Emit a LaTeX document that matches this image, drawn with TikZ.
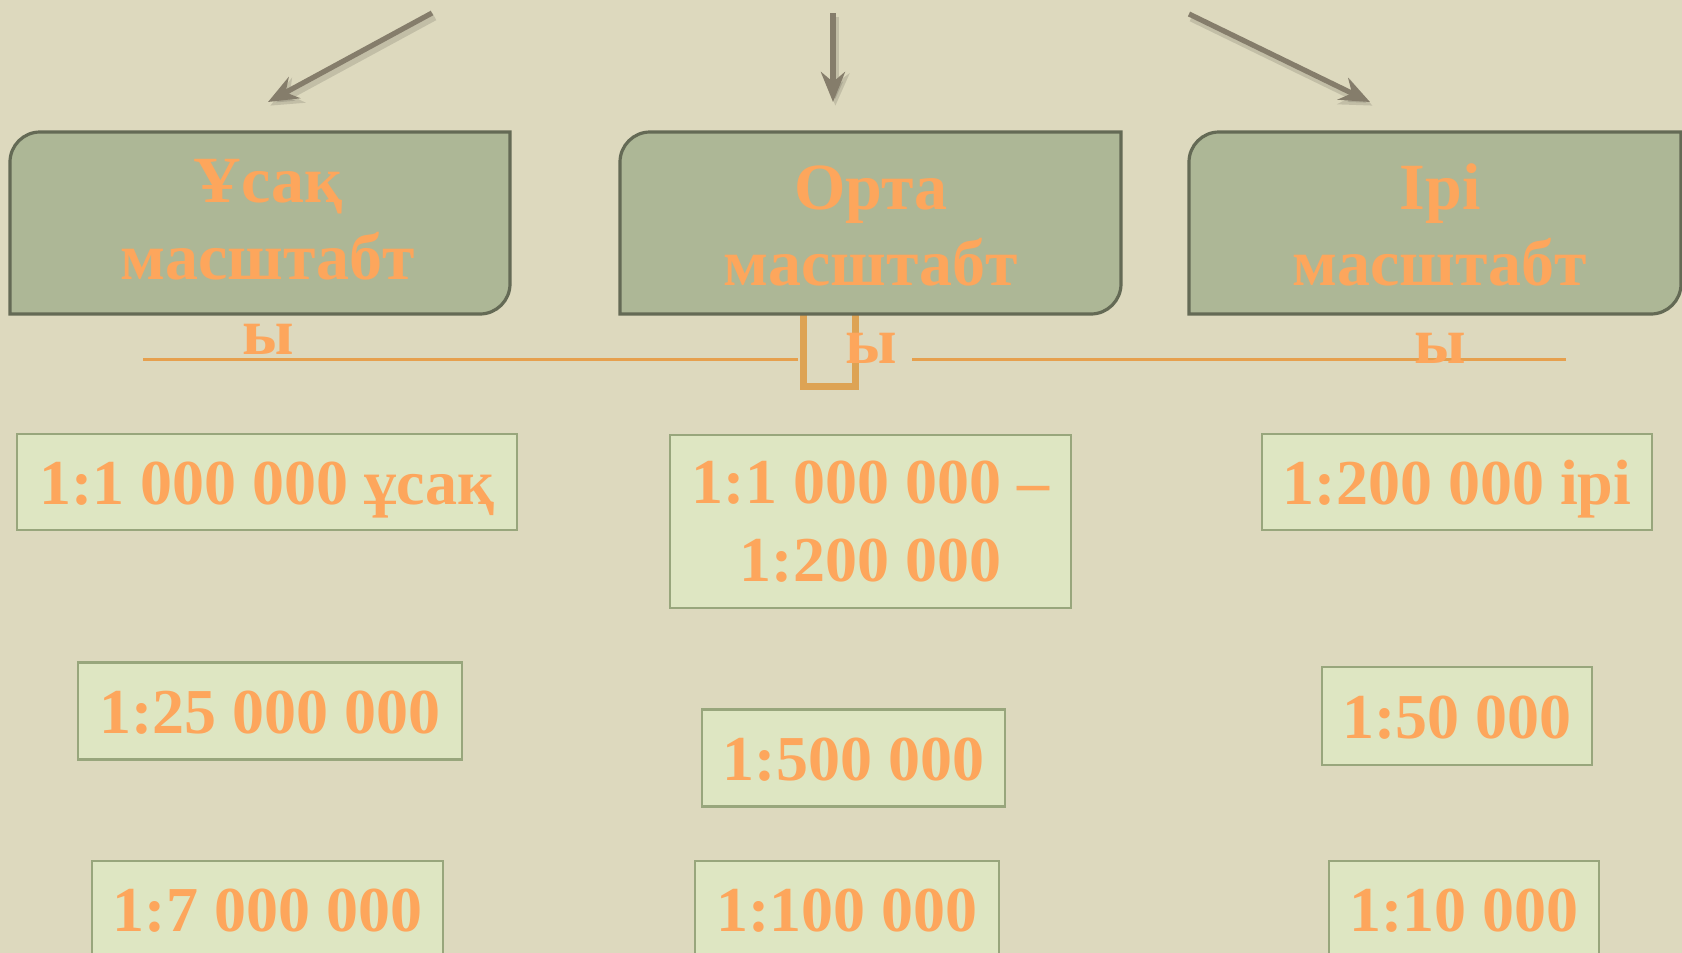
\documentclass[tikz,border=0pt]{standalone}
\usepackage{fontspec}
\setmainfont{Liberation Serif}
\usetikzlibrary{arrows.meta}
\definecolor{bgc}{HTML}{DDD9BE}
\definecolor{hdrfill}{HTML}{ADB796}
\definecolor{hdrline}{HTML}{646A55}
\definecolor{sbfill}{HTML}{DEE6C2}
\definecolor{sbline}{HTML}{98A67C}
\definecolor{txtor}{HTML}{FDA65C}
\definecolor{lineor}{HTML}{E6A04E}
\definecolor{brkor}{HTML}{DDA354}
\definecolor{arrc}{HTML}{857D6B}
\begin{document}
\begin{tikzpicture}[x=0.5pt,y=-0.5pt,
  hdrtext/.style={anchor=base, text=txtor, inner sep=0pt, font=\fontsize{33}{39}\selectfont\bfseries},
  hdrbox/.style={draw=hdrline, fill=hdrfill, line width=1.6pt},
  scalebase/.style={draw=sbline, fill=sbfill, line width=1.4pt, text=txtor, inner sep=0pt,
    align=center, font=\fontsize{32}{39}\selectfont\bfseries},
  scalebox/.style={scalebase, text height=22pt, text depth=0pt},
  feed/.style={draw=arrc, line width=2.6pt, -{Stealth[length=15pt,width=12pt,inset=5pt]}},
  feedshadow/.style={draw=black, opacity=0.12, line width=4pt, -{Stealth[length=16pt,width=14pt,inset=5pt]},
    transform canvas={shift={(1.2pt,-1.8pt)}}},
  orline/.style={draw=lineor, line width=1.5pt},
  brk/.style={draw=brkor, line width=3.5pt}
]
\useasboundingbox (0,0) rectangle (1682,953);
\clip (0,0) rectangle (1682,953);
\fill[bgc] (0,0) rectangle (1682,953);

% feed arrows
\coordinate (a1s) at (432,13);  \coordinate (a1e) at (268,102);
\coordinate (a2s) at (833,13);  \coordinate (a2e) at (833,102);
\coordinate (a3s) at (1189,14); \coordinate (a3e) at (1370,102);
\draw[feedshadow] (a1s) -- (a1e);
\draw[feedshadow] (a2s) -- (a2e);
\draw[feedshadow] (a3s) -- (a3e);
\draw[feed] (a1s) -- (a1e);
\draw[feed] (a2s) -- (a2e);
\draw[feed] (a3s) -- (a3e);

% bracket under middle header
\draw[brk] (803,300) -- (803,386) -- (855,386) -- (855,300);

% header boxes
\draw[hdrbox] (10,314) -- (10,162) .. controls (10,145.5) and (23.5,132) .. (40,132)
  -- (510,132) -- (510,284) .. controls (510,300.5) and (496.5,314) .. (480,314) -- cycle;
\draw[hdrbox] (620,314) -- (620,162) .. controls (620,145.5) and (633.5,132) .. (650,132)
  -- (1121,132) -- (1121,284) .. controls (1121,300.5) and (1107.5,314) .. (1091,314) -- cycle;
\draw[hdrbox] (1189,314) -- (1189,162) .. controls (1189,145.5) and (1202.5,132) .. (1219,132)
  -- (1681,132) -- (1681,284) .. controls (1681,300.5) and (1667.5,314) .. (1651,314) -- cycle;

% orange rule
\coordinate (la) at (143,359); \coordinate (lb) at (798,359);
\coordinate (lc) at (912,359); \coordinate (ld) at (1566,359);
\draw[orline] (la) -- (lb);
\draw[orline] (lc) -- (ld);

% header texts
\node[hdrtext] (h1a) at (268,202) {Ұсақ};
\node[hdrtext] (h1b) at (268,279) {масштабт};
\node[hdrtext] (h1c) at (268,354) {ы};
\node[hdrtext] (h2a) at (871,209) {Орта};
\node[hdrtext] (h2b) at (871,285) {масштабт};
\node[hdrtext] (h2c) at (871,363) {ы};
\node[hdrtext] (h3a) at (1440,209) {Ірі};
\node[hdrtext] (h3b) at (1440,285) {масштабт};
\node[hdrtext] (h3c) at (1440,363) {ы};

% scale boxes
\node[scalebox, minimum width=250pt, minimum height=48pt] (s1) at (267,482) {1:1 000 000 ұсақ};
\node[scalebox, minimum width=192pt, minimum height=48.5pt] (s2) at (270,711) {1:25 000 000};
\node[scalebox, minimum width=175.5pt, minimum height=48pt] (s3) at (267.5,909) {1:7 000 000};
\node[scalebase, minimum width=200.5pt, minimum height=86.5pt] (m1) at (870.5,521.5) {1:1 000 000 –\\1:200 000};
\node[scalebox, minimum width=151.5pt, minimum height=48.5pt] (m2) at (853.5,758) {1:500 000};
\node[scalebox, minimum width=152pt, minimum height=48pt] (m3) at (847,909) {1:100 000};
\node[scalebox, minimum width=195pt, minimum height=48pt] (r1) at (1457,482) {1:200 000 ірі};
\node[scalebox, minimum width=135pt, minimum height=49pt] (r2) at (1457,716) {1:50 000};
\node[scalebox, minimum width=135pt, minimum height=48pt] (r3) at (1464,909) {1:10 000};
\end{tikzpicture}
\end{document}
